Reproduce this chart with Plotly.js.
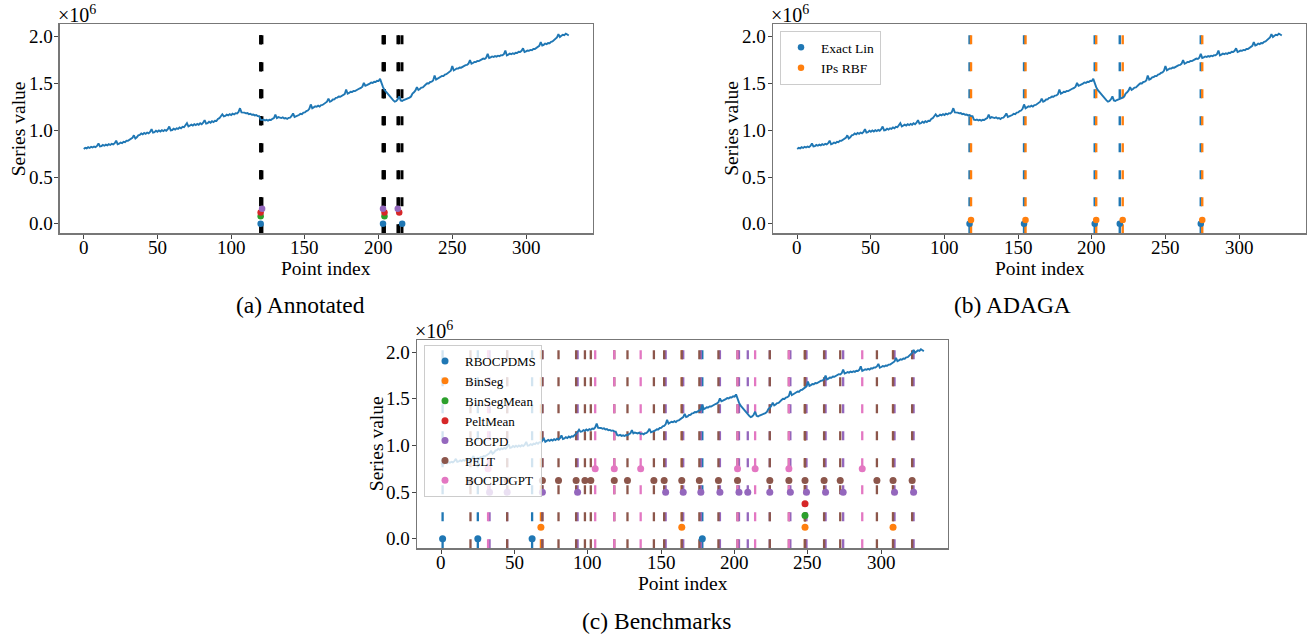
<!DOCTYPE html>
<html>
<head>
<meta charset="utf-8">
<script src="https://cdn.plot.ly/plotly-3.0.1.min.js"></script>
<style>html,body{margin:0;padding:0;background:#fff;}#chart{width:1307px;height:636px;}</style>
</head>
<body>
<div id="chart"></div>
<script>
// Series values (units of 10^6), point index 0..329
const seriesValue = [
0.80,0.812,0.806,0.818,0.81,0.822,0.816,0.826,0.82,0.832,0.858,0.826,
0.83,0.842,0.834,0.846,0.838,0.85,0.842,0.855,0.848,0.862,0.888,0.85,
0.856,0.868,0.862,0.876,0.872,0.888,0.886,0.9,0.904,0.918,0.945,0.912,
0.925,0.945,0.95,0.965,0.955,0.97,0.962,0.975,0.966,0.982,1.012,0.975,
0.98,0.995,0.984,0.998,0.986,1.0,0.99,1.004,0.994,1.01,1.04,0.998,
1.002,1.016,1.006,1.02,1.014,1.03,1.02,1.036,1.032,1.048,1.075,1.04,
1.046,1.06,1.05,1.064,1.054,1.068,1.058,1.074,1.064,1.08,1.108,1.07,
1.076,1.09,1.08,1.096,1.086,1.1,1.098,1.12,1.128,1.145,1.17,1.148,
1.152,1.166,1.158,1.172,1.162,1.176,1.168,1.182,1.178,1.195,1.235,1.19,
1.19,1.188,1.18,1.184,1.172,1.176,1.165,1.168,1.158,1.162,1.152,1.15,
1.112,1.108,1.114,1.104,1.11,1.102,1.112,1.11,1.122,1.13,1.165,1.13,
1.14,1.135,1.13,1.138,1.125,1.13,1.12,1.132,1.135,1.152,1.18,1.142,
1.148,1.162,1.162,1.175,1.172,1.188,1.19,1.205,1.21,1.228,1.275,1.235,
1.242,1.255,1.25,1.262,1.252,1.268,1.27,1.285,1.29,1.305,1.338,1.305,
1.312,1.328,1.33,1.345,1.348,1.36,1.358,1.37,1.372,1.385,1.435,1.39,
1.398,1.41,1.408,1.42,1.418,1.43,1.432,1.445,1.452,1.465,1.505,1.475,
1.482,1.495,1.498,1.51,1.505,1.518,1.515,1.528,1.525,1.548,1.5,1.46,
1.43,1.41,1.392,1.372,1.352,1.335,1.318,1.305,1.312,1.33,1.362,1.318,
1.312,1.322,1.328,1.338,1.336,1.348,1.36,1.392,1.405,1.425,1.46,1.43,
1.44,1.455,1.458,1.478,1.488,1.502,1.5,1.515,1.518,1.532,1.585,1.54,
1.548,1.565,1.568,1.58,1.578,1.595,1.598,1.612,1.618,1.635,1.685,1.64,
1.648,1.66,1.658,1.67,1.668,1.68,1.682,1.695,1.698,1.712,1.75,1.71,
1.718,1.73,1.728,1.74,1.738,1.75,1.752,1.765,1.762,1.775,1.815,1.772,
1.778,1.788,1.782,1.792,1.786,1.796,1.79,1.802,1.8,1.812,1.85,1.8,
1.808,1.818,1.812,1.822,1.815,1.828,1.826,1.838,1.836,1.848,1.875,1.835,
1.842,1.852,1.848,1.858,1.855,1.868,1.868,1.882,1.888,1.902,1.94,1.905,
1.912,1.925,1.92,1.932,1.93,1.945,1.948,1.962,1.972,1.992,2.025,1.995,
2.008,2.02,2.015,2.032,2.022,2.012
];

// (a) Annotated: change points per annotator
const annot0 = [120, 203, 216];
const annot1 = [];
const annot2 = [120, 204];
const annot3 = [120, 204, 214];
const annot4 = [121, 203, 213];

// (b) ADAGA
const cpExactLin = [117, 154, 202, 219, 274];
const cpIPsRBF = [118, 155, 203, 221, 275];

// (c) Benchmarks
const cpRBOCPDMS = [1, 25, 62, 178];
const cpBinSeg = [68, 164, 248, 308];
const cpBinSegMean = [248];
const cpPeltMean = [248];
const cpBOCPD = [33, 45, 69, 93, 153, 165, 177, 190, 203, 209, 224, 238, 249, 262, 274, 309, 322];
const cpPELT = [20, 45, 69, 80, 92, 98, 102, 118, 127, 145, 152, 164, 176, 189, 202, 224, 237, 248, 261, 272, 297, 308, 321];
const cpBOCPDGPT = [32, 105, 118, 136, 202, 214, 237, 287];

const xTicks = [0, 50, 100, 150, 200, 250, 300];
const yTicks = [0.0, 0.5, 1.0, 1.5, 2.0];
const yTickText = ['0.0', '0.5', '1.0', '1.5', '2.0'];

const C = ['#1f77b4', '#ff7f0e', '#2ca02c', '#d62728', '#9467bd', '#8c564b', '#e377c2'];
const FONT = 'Liberation Serif, DejaVu Serif, serif';
const idx = seriesValue.map((_, i) => i);

const traces = [];
const shapes = [];
const DASH = '9px,18px';

function addLines(cps, color, width, ax) {
  cps.forEach(cp => shapes.push({
    type: 'line', xref: 'x' + ax, yref: 'y' + ax + ' domain',
    x0: cp, x1: cp, y0: 0, y1: 1, layer: 'below',
    line: {color: color, width: width, dash: DASH}
  }));
}

// Panel (a)
traces.push({x: idx, y: seriesValue, mode: 'lines', line: {color: C[0], width: 1.9}, xaxis: 'x', yaxis: 'y', showlegend: false, hoverinfo: 'skip'});
[annot0, annot1, annot2, annot3, annot4].forEach((cps, k) => {
  addLines(cps, '#000', 2.6, '');
  traces.push({x: cps, y: cps.map(() => k * 0.04), mode: 'markers', marker: {color: C[k], size: 6.5}, xaxis: 'x', yaxis: 'y', showlegend: false});
});

// Panel (b)
traces.push({x: idx, y: seriesValue, mode: 'lines', line: {color: C[0], width: 1.9}, xaxis: 'x2', yaxis: 'y2', showlegend: false, hoverinfo: 'skip'});
[[cpExactLin, 'Exact Lin'], [cpIPsRBF, 'IPs RBF']].forEach(([cps, name], k) => {
  addLines(cps, C[k], 2.4, '2');
  traces.push({x: cps, y: cps.map(() => k * 0.04), name: name, mode: 'markers', marker: {color: C[k], size: 6.5}, xaxis: 'x2', yaxis: 'y2', legend: 'legend'});
});

// Panel (c)
traces.push({x: idx, y: seriesValue, mode: 'lines', line: {color: C[0], width: 1.9}, xaxis: 'x3', yaxis: 'y3', showlegend: false, hoverinfo: 'skip'});
[[cpRBOCPDMS, 'RBOCPDMS'], [cpBinSeg, 'BinSeg'], [cpBinSegMean, 'BinSegMean'], [cpPeltMean, 'PeltMean'],
 [cpBOCPD, 'BOCPD'], [cpPELT, 'PELT'], [cpBOCPDGPT, 'BOCPDGPT']].forEach(([cps, name], k) => {
  addLines(cps, C[k], 2.3, '3');
  traces.push({x: cps, y: cps.map(() => k * 0.125), name: name, mode: 'markers', marker: {color: C[k], size: 7}, xaxis: 'x3', yaxis: 'y3', legend: 'legend2'});
});

const W = 1307, H = 636;
function xdom(l, r) { return [l / W, r / W]; }
function ydom(t, b) { return [1 - b / H, 1 - t / H]; }

function xax(dom, anchor) {
  return {domain: dom, anchor: anchor, range: [-16.45, 345.45], tickvals: xTicks, showticklabels: false,
    ticks: 'outside', ticklen: 4, tickwidth: 1, tickcolor: '#444', showline: true, mirror: true, linecolor: '#777', linewidth: 1.2,
    showgrid: false, zeroline: false};
}
function yax(dom, anchor) {
  return {domain: dom, anchor: anchor, range: [-0.1015, 2.1315], tickvals: yTicks, showticklabels: false,
    ticks: 'outside', ticklen: 4, tickwidth: 1, tickcolor: '#444', showline: true, mirror: true, linecolor: '#777', linewidth: 1.2,
    showgrid: false, zeroline: false};
}

const annFont = {family: FONT, size: 20, color: '#000'};
const tickFont = {family: FONT, size: 19, color: '#000'};
const titleFont = {family: FONT, size: 19.5, color: '#000'};
const capFont = {family: FONT, size: 23.5, color: '#000'};
const annotations = [];
['', '2', '3'].forEach(ax => {
  const xd = 'x' + ax + ' domain', yd = 'y' + ax + ' domain';
  xTicks.forEach(t => annotations.push({xref: 'x' + ax, yref: yd, x: t, y: 0, xanchor: 'center', yanchor: 'middle', yshift: -14,
    text: String(t), showarrow: false, font: tickFont}));
  yTicks.forEach((t, i) => annotations.push({xref: xd, yref: 'y' + ax, x: 0, y: t, xanchor: 'right', yanchor: 'middle', xshift: -5,
    text: yTickText[i], showarrow: false, font: tickFont}));
  annotations.push({xref: xd, yref: yd, x: 0, y: 1, xanchor: 'left', yanchor: 'top', xshift: -4, yshift: 24,
    text: '×10<sup>6</sup>', showarrow: false, font: annFont});
  annotations.push({xref: xd, yref: yd, x: 0.5, y: 0, xanchor: 'center', yanchor: 'middle', yshift: -35,
    text: 'Point index', showarrow: false, font: titleFont});
  annotations.push({xref: xd, yref: yd, x: 0, y: 0.5, xanchor: 'center', yanchor: 'middle', xshift: -41,
    text: 'Series value', textangle: -90, showarrow: false, font: titleFont});
});
annotations.push({xref: 'paper', yref: 'paper', x: 300 / W, y: 1 - 305 / H, xanchor: 'center', yanchor: 'middle', text: '(a) Annotated', showarrow: false, font: capFont});
annotations.push({xref: 'paper', yref: 'paper', x: 1012 / W, y: 1 - 305 / H, xanchor: 'center', yanchor: 'middle', text: '(b) ADAGA', showarrow: false, font: capFont});
annotations.push({xref: 'paper', yref: 'paper', x: 657 / W, y: 1 - 621 / H, xanchor: 'center', yanchor: 'middle', text: '(c) Benchmarks', showarrow: false, font: capFont});

const layout = {
  width: W, height: H, margin: {l: 0, r: 0, t: 0, b: 0}, paper_bgcolor: '#fff', plot_bgcolor: '#fff',
  font: {family: FONT, color: '#000'},
  xaxis: xax(xdom(59.5, 593), 'y'), yaxis: yax(ydom(24.3, 233.3), 'x'),
  xaxis2: xax(xdom(773, 1306), 'y2'), yaxis2: yax(ydom(24.3, 233.3), 'x2'),
  xaxis3: xax(xdom(417, 948), 'y3'), yaxis3: yax(ydom(340, 548.3), 'x3'),
  shapes: shapes,
  legend: {x: 780 / W, y: 1 - 31 / H, xanchor: 'left', yanchor: 'top', bgcolor: 'rgba(255,255,255,0.8)', bordercolor: '#ccc', borderwidth: 1,
    font: {family: FONT, size: 13.5, color: '#000'}},
  legend2: {x: 424 / W, y: 1 - 345 / H, xanchor: 'left', yanchor: 'top', bgcolor: 'rgba(255,255,255,0.8)', bordercolor: '#ccc', borderwidth: 1,
    font: {family: FONT, size: 13, color: '#000'}},
  annotations: annotations
};

Plotly.newPlot('chart', traces, layout, {staticPlot: true, displayModeBar: false});
</script>
</body>
</html>
